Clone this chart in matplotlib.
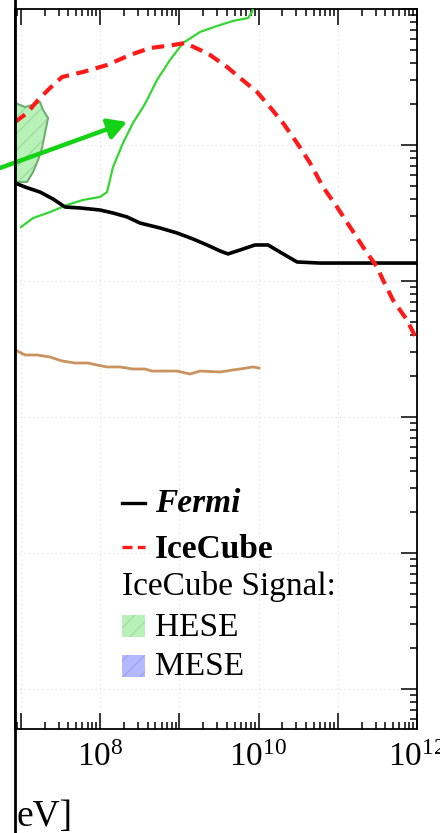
import numpy as np
import matplotlib
matplotlib.use("Agg")
import matplotlib.pyplot as plt
from matplotlib.lines import Line2D
from matplotlib.patches import Rectangle
from matplotlib.ticker import LogLocator, FuncFormatter, NullFormatter

plt.rcParams["font.family"] = ["Liberation Serif", "DejaVu Serif"]
plt.rcParams["mathtext.fontset"] = "custom"
plt.rcParams["mathtext.rm"] = "Liberation Serif"
plt.rcParams["mathtext.it"] = "Liberation Serif:italic"
plt.rcParams["mathtext.bf"] = "Liberation Serif:bold"

# ---- data (log10 of energy [eV] and log10 of flux) ----
fermi_logE = [6.927, 7.054, 7.243, 7.407, 7.558, 7.748, 8.0, 8.164, 8.341, 8.505,
              8.757, 8.972, 9.174, 9.350, 9.514, 9.615, 9.767, 9.956, 10.120,
              10.271, 10.486, 10.776, 12.0]
fermi_logF = [-7.279, -7.309, -7.346, -7.397, -7.456, -7.463, -7.478, -7.500,
              -7.529, -7.574, -7.610, -7.647, -7.691, -7.735, -7.779, -7.801,
              -7.772, -7.735, -7.735, -7.787, -7.860, -7.868, -7.868]

icecube_logE = [6.927, 7.079, 7.218, 7.369, 7.521, 7.785, 8.088, 8.379, 8.631,
                8.921, 9.073, 9.262, 9.388, 9.603, 9.767, 9.981, 10.145, 10.309,
                10.486, 10.650, 10.814, 10.991, 11.155, 11.319, 11.495, 11.571,
                11.697, 11.874, 12.0]
icecube_logF = [-6.831, -6.765, -6.669, -6.581, -6.500, -6.463, -6.412, -6.338,
                -6.287, -6.265, -6.250, -6.301, -6.338, -6.426, -6.507, -6.610,
                -6.721, -6.838, -6.985, -7.132, -7.309, -7.456, -7.603, -7.750,
                -7.897, -7.993, -8.140, -8.287, -8.434]

model_logE = [7.003, 7.155, 7.369, 7.584, 7.785, 8.0, 8.088, 8.164, 8.290, 8.416,
              8.543, 8.593, 8.719, 8.883, 9.047, 9.262, 9.476, 9.678, 9.868,
              9.918, 9.956]
model_logF = [-7.603, -7.537, -7.493, -7.441, -7.404, -7.382, -7.346, -7.162,
              -6.985, -6.838, -6.721, -6.669, -6.522, -6.375, -6.250, -6.169,
              -6.125, -6.088, -6.066, -6.022, -5.934]

brown_logE = [6.927, 7.054, 7.205, 7.369, 7.521, 7.685, 7.849, 7.962, 8.088,
              8.252, 8.416, 8.568, 8.656, 8.972, 9.136, 9.262, 9.514, 9.678,
              9.767, 9.931, 10.006]
brown_logF = [-8.507, -8.544, -8.544, -8.559, -8.588, -8.603, -8.603, -8.618,
              -8.632, -8.632, -8.647, -8.647, -8.662, -8.662, -8.684, -8.662,
              -8.669, -8.654, -8.647, -8.632, -8.640]

hese_logE = [6.80, 6.927, 6.991, 7.054, 7.142, 7.243, 7.281, 7.344, 7.306, 7.268,
             7.218, 7.155, 7.079, 6.927, 6.80]
hese_logF = [-6.691, -6.691, -6.706, -6.721, -6.706, -6.684, -6.743, -6.801,
             -6.912, -7.022, -7.110, -7.199, -7.272, -7.272, -7.272]

arrow_tail = (6.738, -7.169)
arrow_head = (8.341, -6.831)

x_range = (6.927, 12.0)
y_range = (-11.294, -6.0)
x_labels = {8: r"$\mathregular{10^{8}}$", 10: r"$\mathregular{10^{10}}$",
            12: r"$\mathregular{10^{12}}$"}

W, H = 440, 833
fig = plt.figure(figsize=(W / 100, H / 100), dpi=100)
ax = fig.add_axes([15 / W, 1 - 729 / H, 402 / W, 720 / H])
ax.set_xscale("log")
ax.set_yscale("log")
ax.set_xlim(10 ** x_range[0], 10 ** x_range[1])
ax.set_ylim(10 ** y_range[0], 10 ** y_range[1])

p = lambda a: 10 ** np.asarray(a)

# HESE band
ax.fill(p(hese_logE), p(hese_logF), facecolor="#b9f2b9", edgecolor="#9edc9e",
        hatch="//", linewidth=0, zorder=2)
ax.plot(p(hese_logE), p(hese_logF), color="#6fae6f", lw=1.5, zorder=2.1)

ax.plot(p(model_logE), p(model_logF), color="#33d633", lw=1.6, zorder=3)
ax.plot(p(brown_logE), p(brown_logF), color="#c99360", lw=2.0, zorder=3)
ax.plot(p(fermi_logE), p(fermi_logF), color="black", lw=2.6, zorder=4)
ax.plot(p(icecube_logE), p(icecube_logF), color="#ff1a1a", lw=3.0,
        dashes=(3.0, 1.8), dash_capstyle="butt", zorder=4)

ax.annotate("", xy=p(arrow_head), xytext=p(arrow_tail), annotation_clip=False,
            arrowprops=dict(arrowstyle="-|>,head_length=0.8,head_width=0.45",
                            mutation_scale=14, lw=3.2, color="#14d214",
                            shrinkA=0, shrinkB=0), zorder=5)

# axes styling
ax.grid(True, which="major", color="#dedede", ls=(0, (1, 3)), lw=0.8)
ax.xaxis.set_major_locator(LogLocator(base=10, numticks=20))
ax.xaxis.set_minor_locator(LogLocator(base=10, subs=np.arange(2, 10), numticks=100))
ax.yaxis.set_major_locator(LogLocator(base=10, numticks=20))
ax.yaxis.set_minor_locator(LogLocator(base=10, subs=np.arange(2, 10), numticks=100))
ax.xaxis.set_major_formatter(FuncFormatter(
    lambda v, pos: x_labels.get(int(round(np.log10(v))), "")))
ax.xaxis.set_minor_formatter(NullFormatter())
ax.yaxis.set_major_formatter(NullFormatter())
ax.yaxis.set_minor_formatter(NullFormatter())
ax.tick_params(which="both", direction="in", top=True, right=True, left=False,
               width=1.1, color="black")
ax.tick_params(which="major", length=11.5, labelsize=24, pad=10)
ax.tick_params(which="minor", length=5)
for s in ax.spines.values():
    s.set_linewidth(1.3)

fig.add_artist(Line2D([15 / W, 15 / W], [0, 1], transform=fig.transFigure,
                      color="black", lw=2.0))

# legend
T = ax.transAxes
def axx(px):
    return (px - 15) / 402
def axy(py):
    return (729 - py) / 720

ax.add_line(Line2D([axx(122), axx(145)], [axy(503)] * 2, transform=T,
                   color="black", lw=2.4))
ax.add_line(Line2D([axx(122), axx(145)], [axy(547)] * 2, transform=T,
                   color="#ff1a1a", lw=2.4, dashes=(3.0, 1.6),
                   dash_capstyle="butt"))
ax.text(axx(155), axy(512), "Fermi", transform=T, fontsize=24,
        fontweight="bold", fontstyle="italic", va="baseline")
ax.text(axx(155), axy(558), "IceCube", transform=T, fontsize=24,
        fontweight="bold", va="baseline")
ax.text(axx(122), axy(595), "IceCube Signal:", transform=T, fontsize=24,
        va="baseline")
ax.add_patch(Rectangle((axx(122), axy(637)), axx(145) - axx(122),
                       axy(615) - axy(637), transform=T, facecolor="#b9f2b9",
                       edgecolor="#a2e0a2", hatch="//", lw=0))
ax.text(axx(155), axy(636), "HESE", transform=T, fontsize=24, va="baseline")
ax.add_patch(Rectangle((axx(122), axy(677)), axx(145) - axx(122),
                       axy(655) - axy(677), transform=T, facecolor="#b4b8ff",
                       edgecolor="#9ea4f0", hatch="//", lw=0))
ax.text(axx(155), axy(675), "MESE", transform=T, fontsize=24, va="baseline")

fig.text(16 / W, 1 - 826 / H, "eV]", fontsize=27, va="baseline", ha="left")

fig.savefig("out.png", dpi=100)
